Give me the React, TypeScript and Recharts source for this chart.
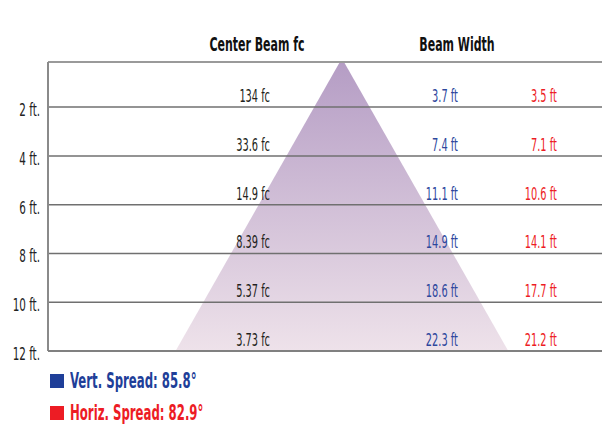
import React from 'react';
import { ComposedChart, Area, Scatter, XAxis, YAxis, ReferenceLine } from 'recharts';

// distance from the fixture, ft
const distances = [2, 4, 6, 8, 10, 12];
const centerBeamFc = [134, 33.6, 14.9, 8.39, 5.37, 3.73];
const vertBeamWidth = [3.7, 7.4, 11.1, 14.9, 18.6, 22.3];
const horizBeamWidth = [3.5, 7.1, 10.6, 14.1, 17.7, 21.2];
const vertSpread = 85.8;
const horizSpread = 82.9;

const BLUE = '#2d479d';
const RED = '#ed1c24';
const FONT = '"DejaVu Sans Condensed", "Liberation Sans Narrow", sans-serif';

// lateral positions (ft from beam centre) of the text columns
const FC_COL = -4.82;
const VERT_COL = 7.77;
const HORIZ_COL = 14.4;
const X_DOMAIN: [number, number] = [-19.7, 17.5];
const Y_DOMAIN: [number, number] = [0.15, 12];

const half = vertBeamWidth[vertBeamWidth.length - 1] / 2;
const beam = [
  { x: -half, d: 12 },
  { x: 0, d: 0 },
  { x: half, d: 12 },
];

const column = (xPos: number, labels: string[]) =>
  distances.map((d, i) => ({ x: xPos, d, label: labels[i] }));

const fcRows = column(FC_COL, centerBeamFc.map(v => `${v} fc`));
const vertRows = column(VERT_COL, vertBeamWidth.map(v => `${v} ft`));
const horizRows = column(HORIZ_COL, horizBeamWidth.map(v => `${v} ft`));

const labelShape = (color: string) => (props: any) => (
  <text
    transform={`translate(${props.cx},${props.cy - 11}) scale(0.64,1)`}
    dy="0.35em"
    textAnchor="end"
    fill={color}
    fontFamily={FONT}
    fontSize={17}
  >
    {props.payload.label}
  </text>
);

const DistanceTick = (props: any) => (
  <text
    transform={`translate(${props.x},${props.y + 3}) scale(0.68,1)`}
    dy="0.35em"
    textAnchor="end"
    fill="#222"
    fontFamily={FONT}
    fontSize={17}
  >
    {`${props.payload.value} ft.`}
  </text>
);

const header: React.CSSProperties = {
  position: 'absolute',
  top: 25,
  fontFamily: FONT,
  fontWeight: 'bold',
  fontSize: 20,
  lineHeight: '22px',
  color: '#111',
  transform: 'translateX(-50%) scaleX(0.61)',
  whiteSpace: 'nowrap',
};

const legendRow = (color: string, text: string) => (
  <div style={{ display: 'flex', alignItems: 'center', height: 32 }}>
    <div style={{ width: 14, height: 14, background: color, marginRight: 6 }} />
    <span
      style={{
        display: 'inline-block',
        fontFamily: FONT,
        fontWeight: 'bold',
        fontSize: 21,
        color,
        whiteSpace: 'nowrap',
        transform: 'scaleX(0.62)',
        transformOrigin: 'left center',
      }}
    >
      {text}
    </span>
  </div>
);

export default function App() {
  return (
    <div style={{ position: 'relative', width: 602 }}>
      <span style={{ ...header, left: 249 }}>Center Beam fc</span>
      <span style={{ ...header, left: 449 }}>Beam Width</span>
      <ComposedChart width={602} height={355} margin={{ top: 54, right: 7, bottom: 12, left: 0 }}>
        <defs>
          <linearGradient id="beamFill" x1="0" y1="0" x2="0" y2="1">
            <stop offset="0%" stopColor="#b49cc4" />
            <stop offset="100%" stopColor="#eee2ea" />
          </linearGradient>
        </defs>
        <XAxis type="number" dataKey="x" domain={X_DOMAIN} hide allowDataOverflow />
        <YAxis
          type="number"
          dataKey="d"
          domain={Y_DOMAIN}
          reversed
          allowDataOverflow
          ticks={distances}
          width={40}
          tickLine={false}
          axisLine={false}
          tickMargin={2}
          tick={<DistanceTick />}
        />
        <Area
          data={beam}
          dataKey="d"
          type="linear"
          baseValue={12}
          stroke="none"
          fill="url(#beamFill)"
          fillOpacity={1}
          isAnimationActive={false}
        />
        {distances.slice(0, -1).map(d => (
          <ReferenceLine key={d} y={d} stroke="#707070" strokeWidth={1.5} />
        ))}
        <ReferenceLine y={Y_DOMAIN[0]} stroke="#9a9a9a" strokeWidth={2} />
        <ReferenceLine x={X_DOMAIN[0]} stroke="#8a8a8a" strokeWidth={2} />
        <ReferenceLine x={X_DOMAIN[1]} stroke="#8a8a8a" strokeWidth={2} />
        <ReferenceLine y={12} stroke="#808080" strokeWidth={2} />
        <Scatter data={fcRows} dataKey="d" shape={labelShape('#231f20')} isAnimationActive={false} />
        <Scatter data={vertRows} dataKey="d" shape={labelShape(BLUE)} isAnimationActive={false} />
        <Scatter data={horizRows} dataKey="d" shape={labelShape(RED)} isAnimationActive={false} />
      </ComposedChart>
      <div style={{ marginTop: 2, marginLeft: 42 }}>
        {legendRow('#1f3f99', `Vert. Spread: ${vertSpread}°`)}
        {legendRow(RED, `Horiz. Spread: ${horizSpread}°`)}
      </div>
    </div>
  );
}
